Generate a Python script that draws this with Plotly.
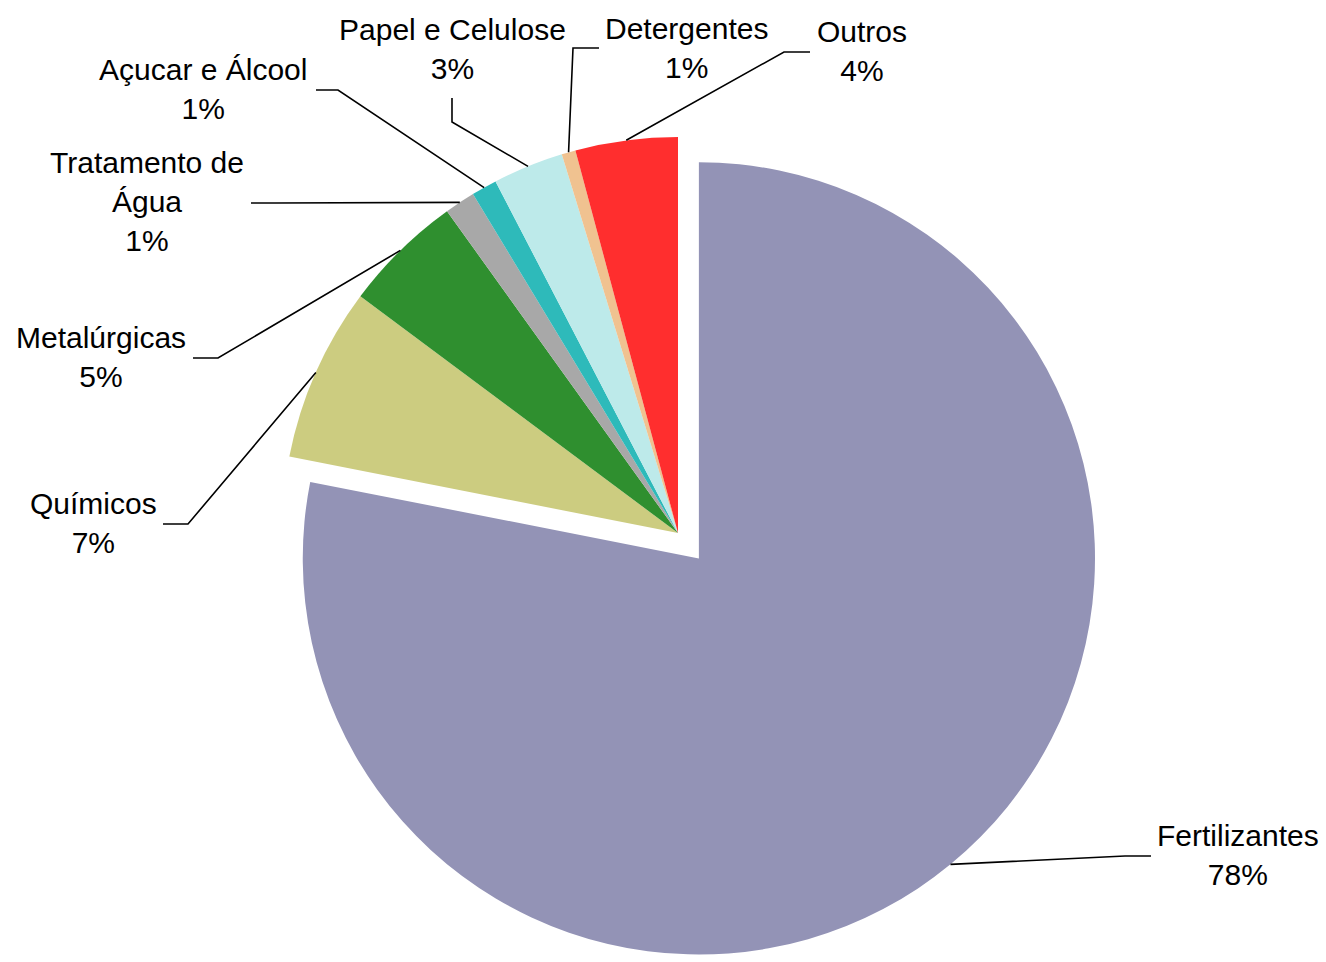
import numpy as np
import plotly.graph_objects as go

# ---- data ----
categories = ["Fertilizantes", "Químicos", "Metalúrgicas", "Tratamento de Água",
              "Açucar e Álcool", "Papel e Celulose", "Detergentes", "Outros"]
values = [78.1, 7.1, 4.9, 1.25, 1.04, 2.88, 0.57, 4.17]

# ---- style / layout ----
colors = ["#9393b6", "#cccc80", "#2f8f2f", "#a8a8a8", "#2ebaba", "#bdeaea", "#f0c290", "#ff2e2e"]
pulls = [0.083, 0, 0, 0, 0, 0, 0, 0]
label_wrap = {"Tratamento de Água": "Tratamento de<br>Água"}

W, H = 1326, 962
cx_px, cy_px = 678, 533      # pie centre (pixels)
half = 429                   # half size of the pie box (pixels)
max_pull = max(pulls)
r = half / (1 + max_pull)

# label centres (pixels) and leader polyline points from the label side (pixels)
label_pos = {
    "Fertilizantes": (1238, 855),
    "Químicos": (93, 523),
    "Metalúrgicas": (101, 357),
    "Tratamento de Água": (147, 202),
    "Açucar e Álcool": (203, 89),
    "Papel e Celulose": (452, 49),
    "Detergentes": (686, 48),
    "Outros": (862, 51),
}
leader = {
    "Fertilizantes": [(1151, 856), (1125, 856)],
    "Químicos": [(163, 524), (188, 524)],
    "Metalúrgicas": [(193, 358), (218, 358)],
    "Tratamento de Água": [(251, 203), (275, 203)],
    "Açucar e Álcool": [(316, 90), (338, 90)],
    "Papel e Celulose": [(452, 98), (452, 122)],
    "Detergentes": [(599, 48), (573, 48)],
    "Outros": [(810, 52), (784, 52)],
}

fig = go.Figure()
fig.add_trace(go.Pie(
    labels=categories,
    values=values,
    sort=False,
    direction="clockwise",
    rotation=0,
    pull=pulls,
    textinfo="none",
    hoverinfo="label+percent",
    marker=dict(colors=colors, line=dict(width=0)),
    domain=dict(x=[(cx_px - 480) / W, (cx_px + 480) / W],
                y=[0, (H - (cy_px - half)) / H]),
    showlegend=False,
))

total = float(sum(values))
cum = 0.0
shapes = []
annotations = []
for name, v, p in zip(categories, values, pulls):
    mid = (cum + v / 2.0) / total * 2 * np.pi
    cum += v
    dx, dy = np.sin(mid), -np.cos(mid)
    ex = cx_px + (p * r + r) * dx
    ey = cy_px + (p * r + r) * dy
    pts = leader[name] + [(ex, ey)]
    path = "M " + " L ".join(f"{x / W:.5f},{1 - y / H:.5f}" for x, y in pts)
    shapes.append(dict(type="path", path=path, xref="paper", yref="paper",
                       line=dict(color="black", width=1.6)))
    lx, ly = label_pos[name]
    pct = round(v / total * 100)
    annotations.append(dict(
        x=lx / W, y=1 - ly / H, xref="paper", yref="paper",
        text=f"{label_wrap.get(name, name)}<br>{pct}%",
        showarrow=False, xanchor="center", yanchor="middle",
        font=dict(family="Liberation Sans, Arial, sans-serif", size=30, color="black"),
    ))

fig.update_layout(
    width=W, height=H,
    margin=dict(l=0, r=0, t=0, b=0),
    paper_bgcolor="white",
    plot_bgcolor="white",
    shapes=shapes,
    annotations=annotations,
)

fig.write_html("out.html", config={"displayModeBar": False},
               post_script="document.body.style.margin='0px';")
